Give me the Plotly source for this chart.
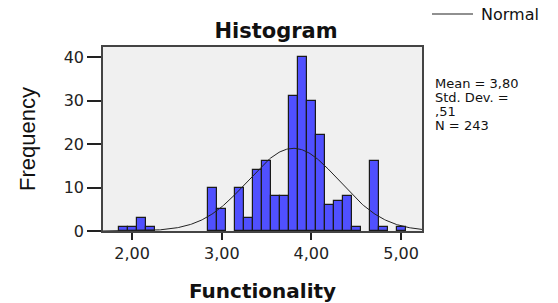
import numpy as np
import plotly.graph_objects as go

# Bin centers (Functionality) and frequencies, bin width 0.1
bin_centers = [1.9, 2.0, 2.1, 2.2, 2.3, 2.4, 2.5, 2.6, 2.7, 2.8, 2.9, 3.0, 3.1, 3.2, 3.3, 3.4,
               3.5, 3.6, 3.7, 3.8, 3.9, 4.0, 4.1, 4.2, 4.3, 4.4, 4.5, 4.6, 4.7, 4.8, 4.9, 5.0]
frequencies = [1, 1, 3, 1, 0, 0, 0, 0, 0, 0, 10, 5, 0, 10, 3, 14,
               16, 8, 8, 31, 40, 30, 22, 6, 7, 8, 1, 0, 16, 1, 0, 1]
bin_width = 0.1

# Summary statistics shown on the chart
mean_val = 3.80
sd_val = 0.51
n_val = 243
stats_lines = ["Mean = 3,80", "Std. Dev. =", ",51", "N = 243"]

x_tickvals = [2, 3, 4, 5]
x_ticklabels = ["2,00", "3,00", "4,00", "5,00"]
y_tickvals = [0, 10, 20, 30, 40]

# only non-empty bins are drawn
bx = [c for c, f in zip(bin_centers, frequencies) if f > 0]
by = [f for f in frequencies if f > 0]

# Normal curve scaled to counts
xs = np.linspace(1.675, 5.234, 300)
ys = n_val * bin_width / (sd_val * np.sqrt(2 * np.pi)) * np.exp(-0.5 * ((xs - mean_val) / sd_val) ** 2)

fig = go.Figure()
fig.add_trace(go.Bar(
    x=bx, y=by, width=bin_width,
    marker=dict(color="#5050ff", line=dict(color="#1a1a1a", width=1.2)),
    showlegend=False,
))
fig.add_trace(go.Scatter(
    x=xs, y=ys, mode="lines", line=dict(color="#222222", width=1),
    showlegend=False, hoverinfo="skip",
))

tick_font = dict(family="DejaVu Sans", size=16, color="#222222")

annotations = [
    dict(text="Normal", xref="paper", yref="paper", x=(479 - 103) / 319, y=(231 - 15) / 184,
         xanchor="left", yanchor="middle", showarrow=False,
         font=dict(family="DejaVu Sans", size=16, color="#111111")),
]
for i, line in enumerate(stats_lines):
    annotations.append(dict(
        text=line, xref="paper", yref="paper", x=(434 - 103) / 319, y=(231 - (83 + 14 * i)) / 184,
        xanchor="left", yanchor="middle", align="left", showarrow=False, borderpad=0,
        font=dict(family="DejaVu Sans", size=13, color="#111111")))

fig.update_layout(
    width=558, height=303,
    margin=dict(l=103, r=136, t=47, b=72),
    paper_bgcolor="white",
    plot_bgcolor="#f0f0f0",
    bargap=0,
    title=dict(text="<b>Histogram</b>", x=276 / 558, xanchor="center", y=1 - 31 / 303, yanchor="middle",
               font=dict(family="DejaVu Sans", size=21, color="#111111")),
    xaxis=dict(
        range=[1.675, 5.234], tickvals=x_tickvals, ticktext=x_ticklabels,
        showgrid=False, zeroline=False, automargin=False,
        showline=True, linecolor="#444444", linewidth=1.5, mirror=True,
        ticks="outside", ticklen=7, tickwidth=1.5, tickcolor="#222222",
        tickfont=tick_font,
        title=dict(text="<b>Functionality</b>", standoff=22,
                   font=dict(family="DejaVu Sans", size=20, color="#111111")),
    ),
    yaxis=dict(
        range=[0, 42.3], tickvals=y_tickvals,
        showgrid=False, zeroline=False, automargin=False,
        showline=True, linecolor="#444444", linewidth=1.5, mirror=True,
        ticks="outside", ticklen=14, tickwidth=1.5, tickcolor="#222222",
        tickfont=tick_font,
        title=dict(text="Frequency", standoff=22,
                   font=dict(family="Liberation Sans Narrow, Liberation Sans", size=22, color="#111111")),
    ),
    shapes=[dict(type="line", xref="paper", yref="paper",
                 x0=(432 - 103) / 319, x1=(473 - 103) / 319,
                 y0=(231 - 14) / 184, y1=(231 - 14) / 184,
                 line=dict(color="#222222", width=1.2))],
    annotations=annotations,
)

fig.write_html("out.html", config={"displayModeBar": False},
               post_script="document.body.style.margin='0';")
